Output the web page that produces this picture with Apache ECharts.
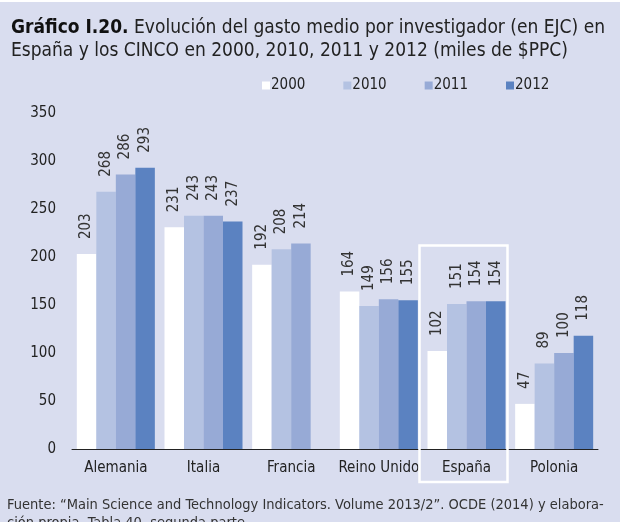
<!DOCTYPE html>
<html>
<head>
<meta charset="utf-8">
<script src="https://cdn.jsdelivr.net/npm/echarts@6/dist/echarts.min.js"></script>
<style>
  html, body { margin: 0; padding: 0; background: #d9ddef; }
  #chart { width: 620px; height: 522px; }
</style>
</head>
<body>
<div id="chart"></div>
<script>
var countries = ['Alemania', 'Italia', 'Francia', 'Reino Unido', 'España', 'Polonia'];
var years = ['2000', '2010', '2011', '2012'];
var v2000 = [203, 231, 192, 164, 102, 47];
var v2010 = [268, 243, 208, 149, 151, 89];
var v2011 = [286, 243, 214, 156, 154, 100];
var v2012 = [293, 237, null, 155, 154, 118];
var yTicks = [0, 50, 100, 150, 200, 250, 300, 350];

var colors = ['#ffffff', '#b4c2e2', '#97aad6', '#5b82c1'];
var FONT = '"DejaVu Sans Condensed", "Liberation Sans", sans-serif';

var chart = echarts.init(document.getElementById('chart'));

function mkSeries(name, data, i){
    return {
        name: name,
        type: 'bar',
        data: data,
        barGap: 0,
        barCategoryGap: '11%',
        itemStyle: { color: colors[i] },
        label: {
            show: true,
            position: 'top',
            rotate: 90,
            align: 'left',
            verticalAlign: 'middle',
            distance: 15,
            color: '#333',
            fontFamily: FONT,
            fontSize: 15
        }
    };
}

var option = {
    backgroundColor: '#d9ddef',
    animation: false,
    color: colors,
    title: {
        left: 6,
        top: 12,
        text: '{b|Gráfico I.20.} Evolución del gasto medio por investigador (en EJC) en\nEspaña y los CINCO en 2000, 2010, 2011 y 2012 (miles de $PPC)',
        textStyle: {
            fontFamily: FONT,
            fontSize: 19,
            fontWeight: 'normal',
            color: '#222',
            lineHeight: 23,
            rich: {
                b: { fontFamily: FONT, fontSize: 19, fontWeight: 'bold', color: '#111', lineHeight: 23 }
            }
        }
    },
    legend: {
        left: 257,
        top: 73,
        itemWidth: 8,
        itemHeight: 8,
        itemGap: 38,
        icon: 'rect',
        textStyle: { fontFamily: FONT, fontSize: 15, color: '#222', padding: [0, 0, 0, -4] },
        data: years
    },
    grid: { left: 72, right: 22, top: 113, bottom: 73 },
    xAxis: {
        type: 'category',
        data: countries,
        axisLine: { lineStyle: { color: '#222', width: 1 } },
        axisTick: { show: false },
        axisLabel: { fontFamily: FONT, fontSize: 15, color: '#222', margin: 12, interval: 0 }
    },
    yAxis: {
        type: 'value',
        min: yTicks[0],
        max: yTicks[yTicks.length - 1],
        interval: 50,
        axisLine: { show: false },
        axisTick: { show: false },
        splitLine: { show: false },
        axisLabel: { fontFamily: FONT, fontSize: 15, color: '#222', margin: 16 }
    },
    series: [
        mkSeries(years[0], v2000, 0),
        mkSeries(years[1], v2010, 1),
        mkSeries(years[2], v2011, 2),
        mkSeries(years[3], v2012, 3)
    ]
};
chart.setOption(option);

// recuadro de España + franja blanca superior + fuente
var cx = chart.convertToPixel({ xAxisIndex: 0 }, 'España');
var yTop = chart.convertToPixel({ yAxisIndex: 0 }, 212);
var y0 = chart.convertToPixel({ yAxisIndex: 0 }, 0);
chart.setOption({
    graphic: [
        { type: 'rect', shape: { x: 0, y: 0, width: 620, height: 2 }, style: { fill: '#ffffff' }, silent: true },
        {
            type: 'rect',
            shape: { x: cx - 47, y: yTop, width: 88, height: y0 - yTop + 33 },
            style: { fill: 'none', stroke: '#ffffff', lineWidth: 2.5 },
            z: 10, silent: true
        },
        {
            type: 'text', left: 7, top: 496,
            style: {
                text: 'Fuente: “Main Science and Technology Indicators. Volume 2013/2”. OCDE (2014) y elabora-\nción propia. Tabla 40, segunda parte.',
                font: '14.5px ' + FONT,
                fill: '#333',
                lineHeight: 18
            }
        }
    ]
});
</script>
</body>
</html>
